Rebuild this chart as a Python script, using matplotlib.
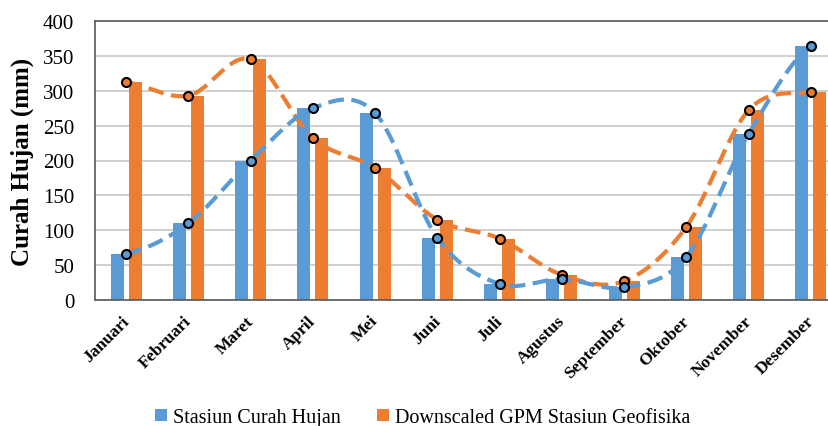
import matplotlib
matplotlib.use("Agg")
import matplotlib.pyplot as plt
import matplotlib.transforms as mtransforms
import numpy as np

bulan = ["Januari", "Februari", "Maret", "April", "Mei", "Juni", "Juli",
         "Agustus", "September", "Oktober", "November", "Desember"]
stasiun = [66, 110, 200, 275, 268, 89, 23, 30, 18, 62, 238, 364]
gpm = [312, 293, 345, 232, 189, 115, 88, 36, 27, 105, 272, 298]

blue = "#5B9BD5"
orange = "#ED7D31"

plt.rcParams["font.family"] = ["Liberation Serif", "DejaVu Serif"]


def smooth(y, n=30):
    # catmull-rom, like the excel "smoothed line"
    y = np.asarray(y, float)
    p = np.concatenate([[y[0]], y, [y[-1]]])
    xs, ys = [], []
    for i in range(len(y) - 1):
        p0, p1, p2, p3 = p[i], p[i + 1], p[i + 2], p[i + 3]
        t = np.linspace(0, 1, n, endpoint=False)
        m1 = (p2 - p0) / 2
        m2 = (p3 - p1) / 2
        h00 = 2 * t**3 - 3 * t**2 + 1
        h10 = t**3 - 2 * t**2 + t
        h01 = -2 * t**3 + 3 * t**2
        h11 = t**3 - t**2
        xs.append(i + t)
        ys.append(h00 * p1 + h10 * m1 + h01 * p2 + h11 * m2)
    xs.append([len(y) - 1])
    ys.append([y[-1]])
    return np.concatenate(xs), np.concatenate(ys)


fig = plt.figure(figsize=(8.29, 4.27), dpi=100)
ax = fig.add_axes([95 / 829, 1 - 301 / 427, 747 / 829, 279 / 427])

x = np.arange(len(bulan))
w = 0.21
ax.bar(x - 0.145, stasiun, w, color=blue, zorder=2, label="Stasiun Curah Hujan")
ax.bar(x + 0.145, gpm, w, color=orange, zorder=2,
       label="Downscaled GPM Stasiun Geofisika")

for vals, c in [(gpm, orange), (stasiun, blue)]:
    sx, sy = smooth(vals)
    ax.plot(sx, sy, color=c, lw=3, dashes=(3.8, 1.8), zorder=3)
    ax.plot(x, vals, "o", ms=6.5, mfc=c, mec="black", mew=1.5, zorder=4)

ax.set_xlim(-0.5, 11.5)
ax.set_ylim(0, 400)
ax.set_yticks(range(0, 401, 50))
ax.yaxis.grid(True, color="#C8C8C8", lw=1.2, zorder=0)
ax.tick_params(axis="y", length=0, labelsize=15, pad=15)
ax.tick_params(axis="x", length=0, pad=9)
ax.set_xticks(x)
ax.set_xticklabels(bulan, rotation=45, ha="right", rotation_mode="anchor",
                   fontsize=12.5, fontweight="bold")
shift = mtransforms.ScaledTranslation(-5 / 100, 0, fig.dpi_scale_trans)
for lab in ax.get_xticklabels():
    lab.set_transform(lab.get_transform() + shift)
for s in ["left", "bottom", "top"]:
    ax.spines[s].set_color("#595959")
    ax.spines[s].set_linewidth(1.2)
ax.spines["right"].set_visible(False)

ax.set_ylabel("Curah Hujan (mm)", fontsize=18, fontweight="bold", labelpad=6)

fig.legend(loc="lower center", bbox_to_anchor=(0.51, -0.045), ncol=2,
           frameon=False, fontsize=14.5, handlelength=0.6, handleheight=0.6,
           handletextpad=0.3, columnspacing=1.8)

fig.savefig("out.png", dpi=100)
